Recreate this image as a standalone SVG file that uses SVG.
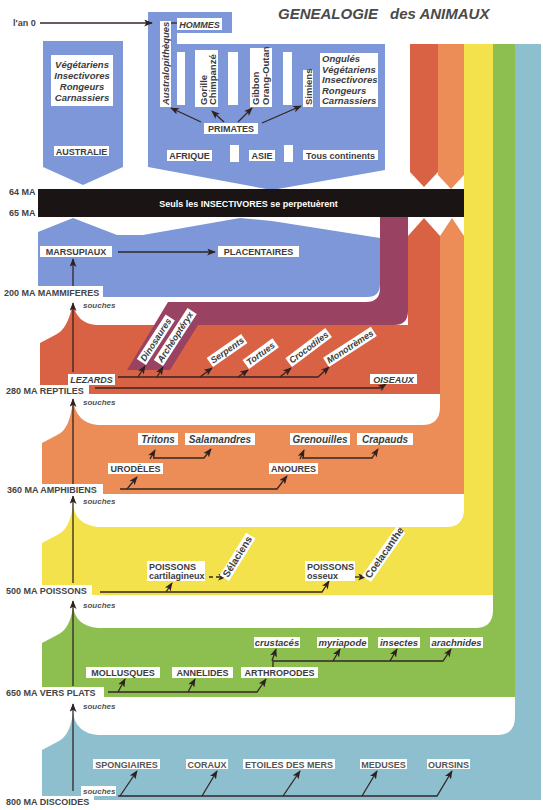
<svg xmlns="http://www.w3.org/2000/svg" width="543" height="810" viewBox="0 0 543 810">
<style>
.lbl{font-family:"Liberation Sans",Arial,sans-serif;font-weight:bold;fill:#3c3c3c;font-size:9px}
.it{font-style:italic}
.c{text-anchor:middle}
.box{fill:#fff}
.ln{fill:none;stroke:#332623;stroke-width:1.3}
.ar{marker-end:url(#ah)}
.ax{font-size:9px;fill:#444}
.so{font-size:8px;font-style:italic;fill:#555}
.big{font-size:10px}
</style>
<defs>
<marker id="ah" viewBox="0 0 10 8" refX="9" refY="4" markerWidth="9" markerHeight="7" markerUnits="userSpaceOnUse" orient="auto"><path d="M0,0 L10,4 L0,8 L2.5,4 Z" fill="#2e2220"/></marker>
</defs>
<rect width="543" height="810" fill="#fff"/>

<g id="bands">
<path fill="#8ebfcf" d="M42 800 V750 L59 741 Q70 735 73 713 Q76 733 98 735 H497 Q515 735 515 717 V44 H541 V800 Z"/>
<path fill="#8dbf50" d="M42 697 V643 L59 634 Q70 628 73 607 Q76 626 98 628 H475 Q493 628 493 610 V44 H515 V697 Z"/>
<path fill="#f3e24c" d="M42 595 V543 L59 534 Q70 528 73 505 Q76 525 98 527 H446 Q464 527 464 509 V44 H493 V595 Z"/>
<path fill="#ec8c57" d="M42 494 V443 L59 434 Q70 428 73 400 Q76 423 98 425 H422 Q440 425 440 407 V236 L452 218 L464 236 V494 Z"/>
<path fill="#ec8c57" d="M438 44 H464 V175 L451 189 L438 175 Z"/>
<path fill="#da6244" d="M40 394 V343 L57 334 Q68 328 73 303 Q76 323 96 325 H408 V236 L424 218 L440 236 V394 Z"/>
<path fill="#da6244" d="M410 44 H438 V172 L424 187 L410 172 Z"/>
<path fill="#9a4262" d="M380 217 H408 V311 Q408 325 394 325 H198 L170 370 H127 L168 302 H366 Q380 302 380 288 Z"/>
<path fill="#7d97d9" d="M38 297 V232 L73 218 L117 235 H143 L240 218 L272 221 L380 238 V284 Q380 297 367 297 Z"/>
<path fill="#7d97d9" d="M43 41 H123 V167 L83 185 L43 167 Z"/>
<path fill="#7d97d9" d="M148 12 H232 V33 H177 V44 H385 V170 L272 190 L148 167 Z"/>
<rect x="38" y="189" width="426" height="28" fill="#1a1514"/>
</g>

<g id="title">
<text class="lbl it" x="278" y="19" style="font-size:15px;fill:#4a4a4a">GENEALOGIE</text>
<text class="lbl it" x="390" y="19" style="font-size:15px;fill:#4a4a4a">des ANIMAUX</text>
</g>

<g id="white-bars" fill="#fff">
<rect x="177" y="52" width="8" height="53"/>
<rect x="228" y="52" width="10" height="53"/>
<rect x="283" y="52" width="9" height="53"/>
<rect x="230" y="145" width="9" height="17"/>
<rect x="284" y="145" width="9" height="17"/>
</g>

<g id="connectors">
<path class="ln ar" d="M40 23 H152"/>
<path class="ln" d="M171 23 H177"/>
<path class="ln ar" d="M201 122 L171 108"/>
<path class="ln ar" d="M224 122 L212 111"/>
<path class="ln ar" d="M238 122 L252 108"/>
<path class="ln ar" d="M262 123 L301 106"/>
<path class="ln ar" d="M118 252 H215"/>
<path class="ln ar" d="M73 286 V259"/>
<path class="ln ar" d="M73 372 V303"/>
<path class="ln ar" d="M73 485 V399"/>
<path class="ln ar" d="M73 583 V496"/>
<path class="ln ar" d="M73 686 V601"/>
<path class="ln ar" d="M73 791 V704"/>
<path class="ln ar" d="M118 377 H318 L329 367"/>
<path class="ln ar" d="M138 377 L145 366"/>
<path class="ln ar" d="M157 377 L163 367"/>
<path class="ln ar" d="M200 377 L212 368"/>
<path class="ln ar" d="M238 377 L248 370"/>
<path class="ln ar" d="M280 377 L291 368"/>
<path class="ln ar" d="M95 388 H380 L386 384"/>
<path class="ln ar" d="M120 489 H277 L287 476"/>
<path class="ln ar" d="M127 489 L137 477"/>
<path class="ln ar" d="M150 459 L155 450"/>
<path class="ln ar" d="M153 458 H204 L211 449"/>
<path class="ln ar" d="M300 459 L304 450"/>
<path class="ln ar" d="M302 458 H372 L378 449"/>
<path class="ln ar" d="M100 592 H322 L329 581"/>
<path class="ln ar" d="M166 592 L172 583"/>
<path class="ln ar" d="M209 577 H226" stroke-dasharray="4 3"/>
<path class="ln ar" d="M343 577 H366"/>
<path class="ln ar" d="M108 692 H257 L266 679"/>
<path class="ln ar" d="M118 692 L125 679"/>
<path class="ln ar" d="M188 692 L195 679"/>
<path class="ln ar" d="M273 667 L273 661 H443 L451 649"/>
<path class="ln ar" d="M272 661 L276 649"/>
<path class="ln ar" d="M333 661 L340 649"/>
<path class="ln ar" d="M390 661 L397 649"/>
<path class="ln ar" d="M118 796 H437 L452 771"/>
<path class="ln ar" d="M120 796 L137 771"/>
<path class="ln ar" d="M202 796 L217 771"/>
<path class="ln ar" d="M283 796 L300 771"/>
<path class="ln ar" d="M362 796 L377 771"/>
</g>

<g id="axis">
<text class="lbl ax" x="13" y="26">l'an 0</text>
<text class="lbl ax" x="9" y="195">64 MA</text>
<text class="lbl ax" x="9" y="216">65 MA</text>
<g id="ax200"><rect class="box" x="2" y="286" width="101" height="12"/><text class="lbl ax" x="4" y="296">200 MA MAMMIFERES</text></g>
<g id="ax280"><rect class="box" x="4" y="385" width="85" height="12"/><text class="lbl ax" x="6" y="394">280 MA REPTILES</text></g>
<g id="ax360"><rect class="box" x="5" y="484" width="98" height="12"/><text class="lbl ax" x="7" y="493">360 MA AMPHIBIENS</text></g>
<g id="ax500"><rect class="box" x="4" y="585" width="88" height="12"/><text class="lbl ax" x="6" y="594">500 MA POISSONS</text></g>
<g id="ax650"><rect class="box" x="4" y="687" width="100" height="12"/><text class="lbl ax" x="6" y="696">650 MA VERS PLATS</text></g>
<g id="ax800"><rect class="box" x="4" y="796" width="90" height="12"/><text class="lbl ax" x="6" y="805">800 MA DISCOIDES</text></g>
<text class="lbl so" x="83" y="308">souches</text>
<text class="lbl so" x="83" y="405">souches</text>
<text class="lbl so" x="83" y="504">souches</text>
<text class="lbl so" x="83" y="608">souches</text>
<text class="lbl so" x="83" y="709">souches</text>
<g id="souches6"><rect class="box" x="81" y="786" width="35" height="10"/><text class="lbl so" x="83" y="794">souches</text></g>
</g>

<g id="australie-list"><rect class="box" x="51" y="55" width="62" height="51"/>
<text class="lbl it c" x="82" y="67.5" style="font-size:9.5px">Végétariens</text>
<text class="lbl it c" x="82" y="78.5" style="font-size:9.5px">Insectivores</text>
<text class="lbl it c" x="82" y="89.5" style="font-size:9.5px">Rongeurs</text>
<text class="lbl it c" x="82" y="100.5" style="font-size:9.5px">Carnassiers</text></g>
<g id="australie"><rect class="box" x="54" y="146" width="55" height="10"/><text class="lbl c" x="81.5" y="154.5">AUSTRALIE</text></g>

<g id="hommes"><rect class="box" x="177" y="18" width="45" height="12"/><text class="lbl it c" x="199.5" y="27.5">HOMMES</text></g>
<g id="australopitheques"><rect class="box" x="160" y="21" width="11" height="86"/><text class="lbl it" transform="translate(169,105) rotate(-90)" style="font-size:9.5px">Australopithèques</text></g>
<g id="gorille"><rect class="box" x="195" y="50" width="23" height="57"/><text class="lbl" transform="translate(207,105) rotate(-90)" style="font-size:9.5px">Gorille</text><text class="lbl" transform="translate(216,105) rotate(-90)" style="font-size:9.5px">Chimpanzé</text></g>
<g id="gibbon"><rect class="box" x="250" y="48" width="22" height="59"/><text class="lbl" transform="translate(259,105) rotate(-90)" style="font-size:9.5px">Gibbon</text><text class="lbl" transform="translate(269,105) rotate(-90)" style="font-size:9.5px">Orang-Outan</text></g>
<g id="simiens"><rect class="box" x="303" y="70" width="10" height="37"/><text class="lbl" transform="translate(311.5,105) rotate(-90)" style="font-size:9.5px">Simiens</text></g>
<g id="ongules"><rect class="box" x="320" y="53" width="58" height="54"/>
<text class="lbl it" x="322" y="62" style="font-size:9.5px">Ongulés</text>
<text class="lbl it" x="322" y="72.5" style="font-size:9.5px">Végétariens</text>
<text class="lbl it" x="322" y="83" style="font-size:9.5px">Insectivores</text>
<text class="lbl it" x="322" y="93.5" style="font-size:9.5px">Rongeurs</text>
<text class="lbl it" x="322" y="104" style="font-size:9.5px">Carnassiers</text></g>
<g id="primates"><rect class="box" x="204" y="123" width="54" height="11"/><text class="lbl c" x="231" y="132">PRIMATES</text></g>
<g id="afrique"><rect class="box" x="167" y="150" width="45" height="11"/><text class="lbl c" x="189.5" y="159">AFRIQUE</text></g>
<g id="asie"><rect class="box" x="249" y="150" width="26" height="11"/><text class="lbl c" x="262" y="159">ASIE</text></g>
<g id="tous"><rect class="box" x="303" y="150" width="75" height="10"/><text class="lbl c" x="340.5" y="158.5">Tous continents</text></g>

<text class="lbl c" x="248.5" y="207" style="fill:#fff">Seuls les INSECTIVORES se perpetuèrent</text>

<g id="marsupiaux"><rect class="box" x="40" y="246" width="72" height="11"/><text class="lbl c" x="76" y="255">MARSUPIAUX</text></g>
<g id="placentaires"><rect class="box" x="218" y="246" width="81" height="11"/><text class="lbl c" x="258.5" y="255">PLACENTAIRES</text></g>

<g id="lezards"><rect class="box" x="68" y="374" width="47" height="11"/><text class="lbl it c" x="91.5" y="383">LEZARDS</text></g>
<g id="oiseaux"><rect class="box" x="370" y="374" width="47" height="10"/><text class="lbl it c" x="393.5" y="382.5">OISEAUX</text></g>
<g id="dinosaures" transform="translate(146,365) rotate(-57)"><rect class="box" x="0" y="-11" width="53" height="11"/><text class="lbl it" x="2" y="-2.5">Dinosaures</text></g>
<g id="archeopteryx" transform="translate(163,366) rotate(-57)"><rect class="box" x="0" y="-11" width="62" height="11"/><text class="lbl it" x="2" y="-2.5">Archéoptéryx</text></g>
<g id="serpents" transform="translate(213,367) rotate(-35)"><rect class="box" x="0" y="-11" width="42" height="11"/><text class="lbl it" x="2" y="-2.5">Serpents</text></g>
<g id="tortues" transform="translate(249,369) rotate(-36)"><rect class="box" x="0" y="-11" width="37" height="11"/><text class="lbl it" x="2" y="-2.5">Tortues</text></g>
<g id="crocodiles" transform="translate(292,367) rotate(-37)"><rect class="box" x="0" y="-11" width="50" height="11"/><text class="lbl it" x="2" y="-2.5">Crocodiles</text></g>
<g id="monotremes" transform="translate(329,367) rotate(-33)"><rect class="box" x="0" y="-11" width="57" height="11"/><text class="lbl it" x="2" y="-2.5">Monotrèmes</text></g>

<g id="urodeles"><rect class="box" x="108" y="463" width="55" height="11"/><text class="lbl c" x="135.5" y="472">URODÈLES</text></g>
<g id="anoures"><rect class="box" x="269" y="463" width="49" height="11"/><text class="lbl c" x="293.5" y="472">ANOURES</text></g>
<g id="tritons"><rect class="box" x="138" y="433" width="40" height="12"/><text class="lbl it c big" x="158" y="442.5">Tritons</text></g>
<g id="salamandres"><rect class="box" x="185" y="433" width="70" height="12"/><text class="lbl it c big" x="220" y="442.5">Salamandres</text></g>
<g id="grenouilles"><rect class="box" x="290" y="433" width="60" height="12"/><text class="lbl it c big" x="320" y="442.5">Grenouilles</text></g>
<g id="crapauds"><rect class="box" x="357" y="433" width="56" height="12"/><text class="lbl it c big" x="385" y="442.5">Crapauds</text></g>

<g id="cartilagineux"><rect class="box" x="147" y="561" width="58" height="20"/><text class="lbl" x="149" y="569.5">POISSONS</text><text class="lbl" x="149" y="579">cartilagineux</text></g>
<g id="selaciens" transform="translate(229,581) rotate(-58)"><rect class="box" x="0" y="-11" width="50" height="11"/><text class="lbl big" x="2" y="-2.5">Sélaciens</text></g>
<g id="osseux"><rect class="box" x="305" y="561" width="50" height="20"/><text class="lbl" x="307" y="569.5">POISSONS</text><text class="lbl" x="307" y="579">osseux</text></g>
<g id="coelacanthe" transform="translate(371,582) rotate(-55)"><rect class="box" x="0" y="-11" width="60" height="11"/><text class="lbl big" x="2" y="-2.5">Coelacanthe</text></g>

<g id="mollusques"><rect class="box" x="86" y="667" width="74" height="11"/><text class="lbl c" x="123" y="676">MOLLUSQUES</text></g>
<g id="annelides"><rect class="box" x="172" y="667" width="61" height="11"/><text class="lbl c" x="202.5" y="676">ANNELIDES</text></g>
<g id="arthropodes"><rect class="box" x="241" y="667" width="77" height="11"/><text class="lbl c" x="279.5" y="676">ARTHROPODES</text></g>
<g id="crustaces"><rect class="box" x="254" y="637" width="46" height="11"/><text class="lbl it c" x="277" y="646" style="font-size:9.5px">crustacés</text></g>
<g id="myriapode"><rect class="box" x="317" y="637" width="51" height="11"/><text class="lbl it c" x="342.5" y="646" style="font-size:9.5px">myriapode</text></g>
<g id="insectes"><rect class="box" x="378" y="637" width="42" height="11"/><text class="lbl it c" x="399" y="646" style="font-size:9.5px">insectes</text></g>
<g id="arachnides"><rect class="box" x="430" y="637" width="53" height="11"/><text class="lbl it c" x="456.5" y="646" style="font-size:9.5px">arachnides</text></g>

<g id="spongiaires"><rect class="box" x="93" y="759" width="67" height="10"/><text class="lbl c" x="126.5" y="767.5" style="fill:#555">SPONGIAIRES</text></g>
<g id="coraux"><rect class="box" x="186" y="759" width="42" height="10"/><text class="lbl c" x="207" y="767.5" style="fill:#555">CORAUX</text></g>
<g id="etoiles"><rect class="box" x="243" y="759" width="92" height="10"/><text class="lbl c" x="289" y="767.5" style="fill:#555">ETOILES DES MERS</text></g>
<g id="meduses"><rect class="box" x="360" y="759" width="47" height="10"/><text class="lbl c" x="383.5" y="767.5" style="fill:#555">MEDUSES</text></g>
<g id="oursins"><rect class="box" x="427" y="759" width="43" height="10"/><text class="lbl c" x="448.5" y="767.5" style="fill:#555">OURSINS</text></g>
</svg>
